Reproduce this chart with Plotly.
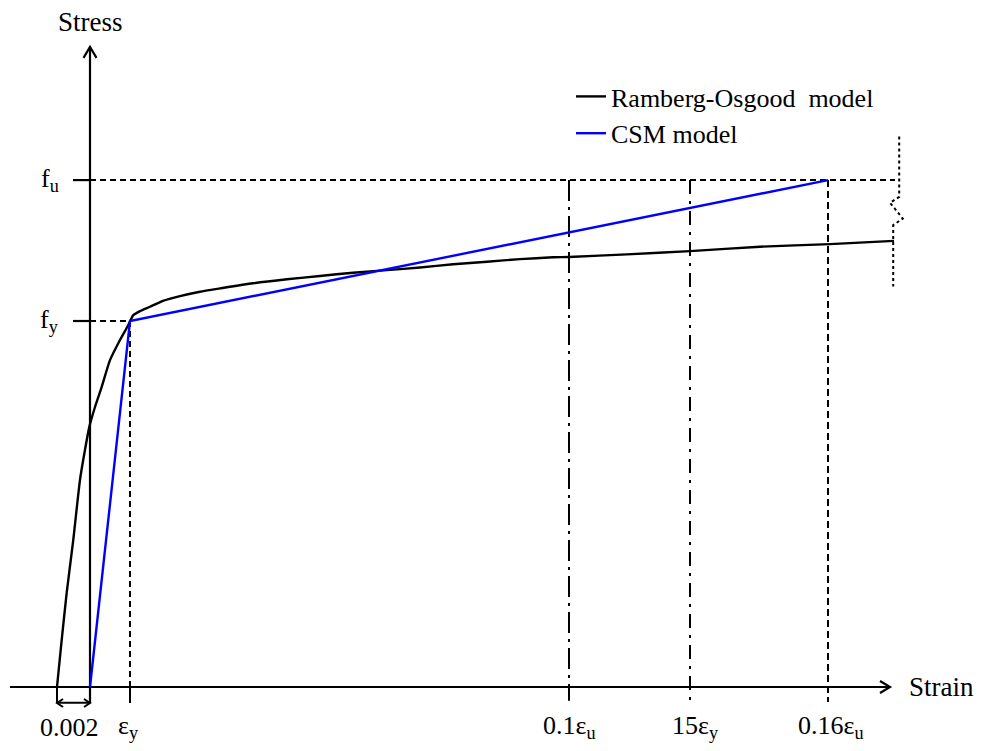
import plotly.graph_objects as go

# ---------------- data (schematic units: strain in eps_y, stress in f_y) ----------------
ro_strain = [-0.825, -0.708, -0.583, -0.418, -0.25, -0.125, -0.018, 0.125, 0.293, 0.5,
             0.75, 0.958, 1.083, 1.25, 1.5, 1.825, 2.25, 2.75, 3.25, 4.075, 4.925,
             5.75, 6.575, 7.425, 8.25, 9.075, 9.925, 10.75, 11.575, 11.975, 13.425,
             15.0, 16.75, 18.5, 20.1]
ro_stress = [0.0, 0.128, 0.257, 0.402, 0.566, 0.648, 0.710, 0.765, 0.820, 0.893,
             0.948, 0.989, 1.016, 1.027, 1.039, 1.055, 1.068, 1.080, 1.089, 1.103, 1.114,
             1.123, 1.132, 1.139, 1.146, 1.155, 1.162, 1.169, 1.174, 1.175, 1.182,
             1.191, 1.203, 1.210, 1.219]

eps_y = 1.0
offset_002 = -0.825
eps_01u = 11.975
eps_15y = 15.0
eps_016u = 18.45
f_y = 1.0
f_u = 1.385

csm_strain = [0.0, eps_y, eps_016u]
csm_stress = [0.0, f_y, f_u]

tick_labels = ["0.002", "ε<sub>y</sub>", "0.1ε<sub>u</sub>", "15ε<sub>y</sub>", "0.16ε<sub>u</sub>"]
tick_label_x = [-0.525, 0.95, 11.975, 15.125, 18.525]
stress_levels = [f_u, f_y]
stress_labels = ["f<sub>u</sub>", "f<sub>y</sub>"]

# break symbol (dotted) on the right
break_strain = [20.23, 20.23, 20.0, 20.32, 20.08, 20.08]
break_stress = [1.504, 1.339, 1.323, 1.280, 1.262, 1.094]

# axis extents
x_axis_min, x_axis_max = -2.0, 20.0
y_axis_min, y_axis_max = -0.0437, 1.749
below = -0.0437     # depth of tick lines below x-axis
fu_line_end = 20.125

# ---------------- figure ----------------
OFF = 8                          # page body margin
W, H = 986 - 2 * OFF, 751 - 2 * OFF
PX0, PY0 = 90.0, 687.0           # page pixel of the origin
SX, SY = 40.0, 366.0             # pixels per unit
xr = [(OFF - PX0) / SX, (OFF + W - PX0) / SX]
yr = [(PY0 - (OFF + H)) / SY, (PY0 - OFF) / SY]

FONT = "Liberation Serif, Times New Roman, serif"
fig = go.Figure()

def seg(x, y, dash="solid", width=2, color="black"):
    fig.add_trace(go.Scatter(x=x, y=y, mode="lines", showlegend=False, hoverinfo="skip",
                             line=dict(color=color, width=width, dash=dash)))

# axes
seg([x_axis_min, x_axis_max], [0, 0], width=2.2)
seg([0, 0], [below, y_axis_max], width=2.2)
# arrowheads (open chevrons)
ax, ay = 10 / SX, 6 / SY
seg([x_axis_max - ax, x_axis_max, x_axis_max - ax], [ay, 0, -ay], width=2.2)
vx, vy = 6.5 / SX, 11 / SY
seg([-vx, 0, vx], [y_axis_max - vy, y_axis_max, y_axis_max - vy], width=2.2)

# reference lines
seg([-17 / SX, 0], [f_u, f_u], width=2.2)
seg([0, fu_line_end], [f_u, f_u], dash="6px,4px")
seg([-17 / SX, 0], [f_y, f_y], width=2.2)
seg([0, eps_y], [f_y, f_y], dash="6px,4px")
seg([eps_y, eps_y], [f_y, 0], dash="6px,4px")
seg([eps_y, eps_y], [0, below])
seg([eps_01u, eps_01u], [f_u, below + 0.006], dash="21px,6px,3px,6px")
seg([eps_15y, eps_15y], [f_u, below + 0.008], dash="14px,7px,3px,7px")
seg([eps_016u, eps_016u], [f_u, below + 0.003], dash="7px,4px")

# 0.002 offset dimension
seg([offset_002, offset_002], [0, below])
seg([offset_002, 0], [below + 0.001, below + 0.001])
hx, hy = 6 / SX, 4 / SY
seg([offset_002 + hx, offset_002, offset_002 + hx], [below + hy, below, below - hy])
seg([-hx, 0, -hx], [below + hy, below, below - hy])

# break symbol
seg(break_strain, break_stress, dash="dot")

# model curves
fig.add_trace(go.Scatter(x=ro_strain, y=ro_stress, mode="lines", name="Ramberg-Osgood  model",
                         line=dict(color="black", width=2.4, shape="spline", smoothing=0.6),
                         hoverinfo="skip"))
fig.add_trace(go.Scatter(x=csm_strain, y=csm_stress, mode="lines", name="CSM model",
                         line=dict(color="#0000ff", width=2.4), hoverinfo="skip"))

# text
ann = []
for xv, lab in zip(tick_label_x, tick_labels):
    ann.append(dict(x=xv, y=(PY0 - 727) / SY, text=lab, showarrow=False,
                    xanchor="center", yanchor="middle",
                    font=dict(size=26, family=FONT, color="black")))
for yv, lab in zip(stress_levels, stress_labels):
    ann.append(dict(x=(61 - PX0) / SX, y=yv, text=lab, showarrow=False,
                    xanchor="right", yanchor="middle",
                    font=dict(size=26, family=FONT, color="black")))
ann.append(dict(x=0, y=(PY0 - 22) / SY, text="Stress", showarrow=False, xanchor="center",
                yanchor="middle", font=dict(size=27, family=FONT, color="black")))
ann.append(dict(x=(907 - PX0) / SX, y=(PY0 - 687) / SY, text="Strain", showarrow=False,
                xanchor="left", yanchor="middle", font=dict(size=27, family=FONT, color="black")))

fig.update_layout(
    width=W, height=H, margin=dict(l=0, r=0, t=0, b=0),
    paper_bgcolor="white", plot_bgcolor="white",
    xaxis=dict(range=xr, visible=False, fixedrange=True),
    yaxis=dict(range=yr, visible=False, fixedrange=True),
    annotations=ann,
    showlegend=True,
    legend=dict(x=563 / W, y=1 - 65 / H, xanchor="left", yanchor="top",
                font=dict(size=26, family=FONT, color="black"), bgcolor="rgba(0,0,0,0)",
                tracegroupgap=0),
)
fig.write_html("out.html")
